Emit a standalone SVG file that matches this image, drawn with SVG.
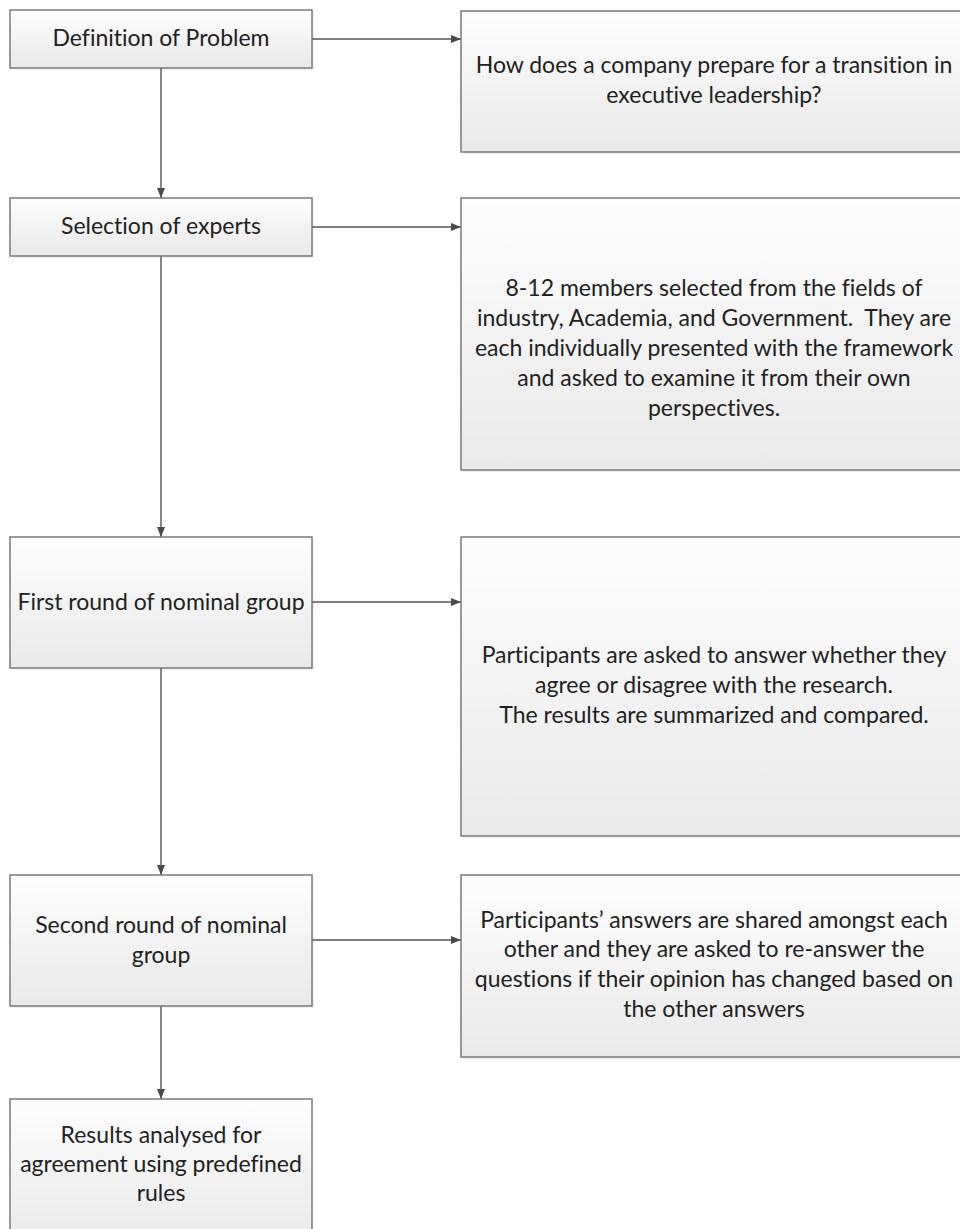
<svg xmlns="http://www.w3.org/2000/svg" width="960" height="1229" viewBox="0 0 960 1229">
  <defs>
    <linearGradient id="fill" x1="0" y1="0" x2="0" y2="1">
      <stop offset="0" stop-color="#fdfdfd"/>
      <stop offset="1" stop-color="#e9e9e9"/>
    </linearGradient>
    <marker id="arrow" viewBox="0 0 10 10" refX="10" refY="5" markerWidth="10" markerHeight="10" markerUnits="userSpaceOnUse" orient="auto">
      <path d="M0,1 L10,5 L0,9 Z" fill="#4a4a4a"/>
    </marker>
  </defs>
  <style>
    .box { fill: url(#fill); stroke: #7a7a7a; stroke-width: 1.5; }
    .shadow { fill: #000; opacity: 0.06; }
    .lbl { font-family: Lato, "Liberation Sans", sans-serif; font-size: 23px; fill: #222; text-anchor: middle; font-variant-ligatures: none; white-space: pre; }
    .conn { stroke: #555; stroke-width: 1.4; fill: none; marker-end: url(#arrow); }
  </style>
  <rect width="960" height="1229" fill="#ffffff"/>

  <g id="connectors">
    <line class="conn" x1="161" y1="68" x2="161" y2="198"/>
    <line class="conn" x1="161" y1="256" x2="161" y2="537"/>
    <line class="conn" x1="161" y1="668" x2="161" y2="875"/>
    <line class="conn" x1="161" y1="1006" x2="161" y2="1099"/>
    <line class="conn" x1="312" y1="39" x2="461" y2="39"/>
    <line class="conn" x1="312" y1="227" x2="461" y2="227"/>
    <line class="conn" x1="312" y1="602" x2="461" y2="602"/>
    <line class="conn" x1="312" y1="940" x2="461" y2="940"/>
  </g>

  <g id="n1">
    <rect class="shadow" x="12" y="12" width="302" height="58"/>
    <rect class="box" x="10" y="10" width="302" height="58"/>
    <text class="lbl" x="161" y="46">Definition of Problem</text>
  </g>
  <g id="n1d">
    <rect class="shadow" x="463" y="13" width="507" height="141"/>
    <rect class="box" x="461" y="11" width="507" height="141"/>
    <text class="lbl" x="714" y="73">How does a company prepare for a transition in</text>
    <text class="lbl" x="714" y="103">executive leadership?</text>
  </g>

  <g id="n2">
    <rect class="shadow" x="12" y="200" width="302" height="58"/>
    <rect class="box" x="10" y="198" width="302" height="58"/>
    <text class="lbl" x="161" y="234">Selection of experts</text>
  </g>
  <g id="n2d">
    <rect class="shadow" x="463" y="200" width="507" height="272"/>
    <rect class="box" x="461" y="198" width="507" height="272"/>
    <text class="lbl" x="714" y="296">8-12 members selected from the fields of</text>
    <text class="lbl" x="714" y="326" xml:space="preserve">industry, Academia, and Government.  They are</text>
    <text class="lbl" x="714" y="356">each individually presented with the framework</text>
    <text class="lbl" x="714" y="386">and asked to examine it from their own</text>
    <text class="lbl" x="714" y="416">perspectives.</text>
  </g>

  <g id="n3">
    <rect class="shadow" x="12" y="539" width="302" height="131"/>
    <rect class="box" x="10" y="537" width="302" height="131"/>
    <text class="lbl" x="161" y="610">First round of nominal group</text>
  </g>
  <g id="n3d">
    <rect class="shadow" x="463" y="539" width="507" height="299"/>
    <rect class="box" x="461" y="537" width="507" height="299"/>
    <text class="lbl" x="714" y="663">Participants are asked to answer whether they</text>
    <text class="lbl" x="714" y="693">agree or disagree with the research.</text>
    <text class="lbl" x="714" y="723">The results are summarized and compared.</text>
  </g>

  <g id="n4">
    <rect class="shadow" x="12" y="877" width="302" height="131"/>
    <rect class="box" x="10" y="875" width="302" height="131"/>
    <text class="lbl" x="161" y="933">Second round of nominal</text>
    <text class="lbl" x="161" y="963">group</text>
  </g>
  <g id="n4d">
    <rect class="shadow" x="463" y="877" width="507" height="182"/>
    <rect class="box" x="461" y="875" width="507" height="182"/>
    <text class="lbl" x="714" y="928">Participants’ answers are shared amongst each</text>
    <text class="lbl" x="714" y="957">other and they are asked to re-answer the</text>
    <text class="lbl" x="714" y="987">questions if their opinion has changed based on</text>
    <text class="lbl" x="714" y="1017">the other answers</text>
  </g>

  <g id="n5">
    <rect class="box" x="10" y="1099" width="302" height="145"/>
    <text class="lbl" x="161" y="1143">Results analysed for</text>
    <text class="lbl" x="161" y="1172">agreement using predefined</text>
    <text class="lbl" x="161" y="1201">rules</text>
  </g>
</svg>
